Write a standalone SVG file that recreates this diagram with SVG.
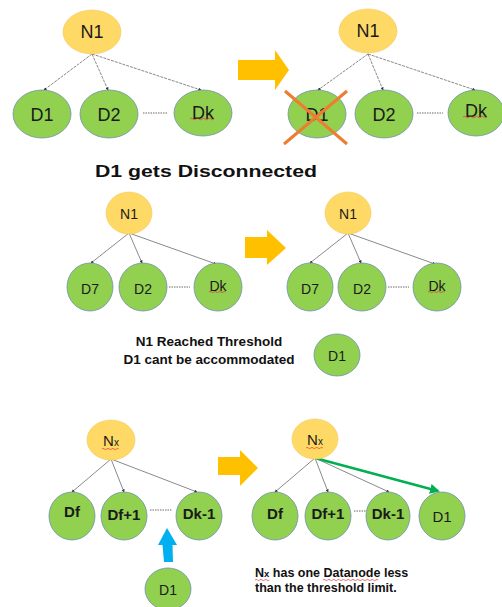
<svg xmlns="http://www.w3.org/2000/svg" width="502" height="607" viewBox="0 0 502 607">
  <style>
    .nn { fill: #FFD966; stroke: #F5C85A; stroke-width: 0.6; }
    .dn { fill: #92D050; stroke: #6F8FB0; stroke-width: 0.8; }
    .t { font-family: "Liberation Sans", Arial, sans-serif; fill: #1a1a1a; text-anchor: middle; dominant-baseline: central; }
    .t1 { font-size: 18px; }
    .t2 { font-size: 14px; }
    .t3 { font-size: 15px; font-weight: bold; }
    .t3r { font-size: 15px; }
    .edge { stroke: #6b6b6b; stroke-width: 0.8; fill: none; marker-end: url(#tip); }
    .edge.dash { stroke-dasharray: 3 1; }
    .dots { stroke: #6b6b6b; stroke-width: 1; stroke-dasharray: 1.5 1; }
    .blk { fill: #FFC000; }
    .spell { stroke: #e03030; stroke-width: 0.7; fill: none; }
    .cap { font-family: "Liberation Sans", Arial, sans-serif; font-weight: bold; fill: #111; }
  </style>
  <defs>
    <marker id="tip" viewBox="0 0 6 6" refX="5" refY="3" markerWidth="4" markerHeight="4" orient="auto">
      <path d="M0,0 L6,3 L0,6 z" fill="#333"/>
    </marker>
    <marker id="gtip" viewBox="0 0 10 10" refX="8" refY="5" markerWidth="4" markerHeight="4" orient="auto">
      <path d="M0,0 L10,5 L0,10 z" fill="#00B050"/>
    </marker>
  </defs>

  <!-- connectors -->
  <g id="connectors">
    <!-- row 1 left -->
    <path class="edge dash" d="M92,54 L44,90"/>
    <path class="edge dash" d="M92,54 L108,90"/>
    <path class="edge dash" d="M92,54 L201,90"/>
    <line class="dots" x1="143" y1="113" x2="168" y2="113"/>
    <!-- row 1 right -->
    <path class="edge dash" d="M368,54 L318,90"/>
    <path class="edge dash" d="M368,54 L383,90"/>
    <path class="edge dash" d="M368,54 L475,90"/>
    <line class="dots" x1="417" y1="113" x2="443" y2="113"/>
    <!-- row 2 left -->
    <path class="edge" d="M129,233 L91,263"/>
    <path class="edge" d="M129,233 L142,263"/>
    <path class="edge" d="M129,233 L216,264"/>
    <line class="dots" x1="169" y1="287" x2="190" y2="287"/>
    <!-- row 2 right -->
    <path class="edge" d="M348,233 L310,263"/>
    <path class="edge" d="M348,233 L361,263"/>
    <path class="edge" d="M348,233 L435,264"/>
    <line class="dots" x1="388" y1="287" x2="409" y2="287"/>
    <!-- row 3 left -->
    <path class="edge" d="M111,459 L72,492"/>
    <path class="edge" d="M111,459 L124,492"/>
    <path class="edge" d="M111,459 L197,492"/>
    <line class="dots" x1="150" y1="510" x2="172" y2="510"/>
    <!-- row 3 right -->
    <path class="edge" d="M315,458 L275,492"/>
    <path class="edge" d="M315,458 L328,492"/>
    <path class="edge" d="M315,458 L389,492"/>
    <line class="dots" x1="354" y1="511" x2="366" y2="511"/>
    <path d="M315,458 L438,491" stroke="#00B050" stroke-width="2.5" fill="none" marker-end="url(#gtip)"/>
  </g>

  <!-- block arrows -->
  <path class="blk" d="M238,60 L275,60 L275,50 L289,70 L275,90 L275,80 L238,80 Z"/>
  <path class="blk" d="M245,237 L267,237 L267,230 L286,248 L267,265 L267,258 L245,258 Z"/>
  <path class="blk" d="M218,457 L240,457 L240,450 L258,468 L240,486 L240,475 L218,475 Z"/>
  <path d="M167,528 L177,545 L172.5,545 L173,562 L164,562 L162.5,545 L158,545 Z" fill="#00B0F0"/>

  <!-- row 1, before -->
  <g id="r1a-N1"><ellipse class="nn" cx="92" cy="32" rx="29" ry="22"/><text class="t t1" x="92" y="32">N1</text></g>
  <g id="r1a-D1"><ellipse class="dn" cx="42" cy="114" rx="29" ry="24"/><text class="t t1" x="42" y="115">D1</text></g>
  <g id="r1a-D2"><ellipse class="dn" cx="109" cy="114" rx="29" ry="24"/><text class="t t1" x="109" y="115">D2</text></g>
  <g id="r1a-Dk"><ellipse class="dn" cx="203" cy="113" rx="29" ry="23"/><text class="t t1" x="203" y="113">Dk</text>
    <path class="spell" d="M190,119 q1.5,-1.5 3,0 t3,0 t3,0 t3,0 t3,0 t3,0 t3,0 t3,0"/></g>

  <!-- row 1, after -->
  <g id="r1b-N1"><ellipse class="nn" cx="368" cy="31" rx="29" ry="22"/><text class="t t1" x="368" y="31">N1</text></g>
  <g id="r1b-D1"><ellipse class="dn" cx="317" cy="114" rx="29" ry="24"/><text class="t t1" x="317" y="115">D1</text>
    <path d="M285,91 L347,144 M347,91 L284,144" stroke="#ED7D31" stroke-width="3" fill="none"/></g>
  <g id="r1b-D2"><ellipse class="dn" cx="384" cy="114" rx="29" ry="24"/><text class="t t1" x="384" y="115">D2</text></g>
  <g id="r1b-Dk"><ellipse class="dn" cx="476" cy="113" rx="28" ry="23"/><text class="t t1" x="476" y="111">Dk</text>
    <path class="spell" d="M463,117 q1.5,-1.5 3,0 t3,0 t3,0 t3,0 t3,0 t3,0 t3,0 t3,0"/></g>

  <text class="cap" x="95" y="177" font-size="17" textLength="222" lengthAdjust="spacingAndGlyphs">D1 gets Disconnected</text>

  <!-- row 2, before -->
  <g id="r2a-N1"><ellipse class="nn" cx="129" cy="213" rx="23" ry="21"/><text class="t t2" x="129" y="214">N1</text></g>
  <g id="r2a-D7"><ellipse class="dn" cx="90" cy="287" rx="23" ry="24"/><text class="t t2" x="90" y="289">D7</text></g>
  <g id="r2a-D2"><ellipse class="dn" cx="143" cy="287" rx="24" ry="24"/><text class="t t2" x="143" y="289">D2</text></g>
  <g id="r2a-Dk"><ellipse class="dn" cx="218" cy="287" rx="24" ry="24"/><text class="t t2" x="218" y="286">Dk</text>
    <path class="spell" d="M209,292 q1.2,-1.2 2.4,0 t2.4,0 t2.4,0 t2.4,0 t2.4,0 t2.4,0 t2.4,0"/></g>

  <!-- row 2, after -->
  <g id="r2b-N1"><ellipse class="nn" cx="348" cy="213" rx="23" ry="21"/><text class="t t2" x="348" y="214">N1</text></g>
  <g id="r2b-D7"><ellipse class="dn" cx="310" cy="287" rx="23" ry="24"/><text class="t t2" x="310" y="289">D7</text></g>
  <g id="r2b-D2"><ellipse class="dn" cx="362" cy="287" rx="24" ry="24"/><text class="t t2" x="362" y="289">D2</text></g>
  <g id="r2b-Dk"><ellipse class="dn" cx="437" cy="287" rx="24" ry="24"/><text class="t t2" x="437" y="286">Dk</text>
    <path class="spell" d="M428,292 q1.2,-1.2 2.4,0 t2.4,0 t2.4,0 t2.4,0 t2.4,0 t2.4,0 t2.4,0"/></g>

  <text class="cap" font-size="13.5" text-anchor="middle" x="209" y="346">N1 Reached Threshold</text>
  <text class="cap" font-size="13.5" text-anchor="middle" x="209" y="364">D1 cant be accommodated</text>
  <g id="r2-D1"><ellipse class="dn" cx="337" cy="355" rx="23" ry="21"/><text class="t t2" x="337" y="356">D1</text></g>

  <!-- row 3, before -->
  <g id="r3a-Nx"><ellipse class="nn" cx="111" cy="440" rx="24" ry="20"/>
    <text class="t" x="111" y="440"><tspan font-size="15">N</tspan><tspan font-size="10" dy="2">x</tspan></text>
    <path class="spell" d="M102,449 q1.2,-1.2 2.4,0 t2.4,0 t2.4,0 t2.4,0 t2.4,0 t2.4,0 t2.4,0"/></g>
  <g id="r3a-Df"><ellipse class="dn" cx="72" cy="516" rx="23" ry="24"/><text class="t t3" x="72" y="511">Df</text></g>
  <g id="r3a-Df1"><ellipse class="dn" cx="124" cy="516" rx="23" ry="24"/><text class="t t3" x="124" y="514">Df+1</text></g>
  <g id="r3a-Dk1"><ellipse class="dn" cx="199" cy="516" rx="23" ry="24"/><text class="t t3" x="199" y="513">Dk-1</text></g>

  <!-- row 3, after -->
  <g id="r3b-Nx"><ellipse class="nn" cx="315" cy="439" rx="23" ry="20"/>
    <text class="t" x="315" y="439"><tspan font-size="15">N</tspan><tspan font-size="10" dy="2">x</tspan></text>
    <path class="spell" d="M306,448 q1.2,-1.2 2.4,0 t2.4,0 t2.4,0 t2.4,0 t2.4,0 t2.4,0 t2.4,0"/></g>
  <g id="r3b-Df"><ellipse class="dn" cx="275" cy="516" rx="23" ry="24"/><text class="t t3" x="275" y="513">Df</text></g>
  <g id="r3b-Df1"><ellipse class="dn" cx="328" cy="516" rx="23" ry="24"/><text class="t t3" x="328" y="513">Df+1</text></g>
  <g id="r3b-Dk1"><ellipse class="dn" cx="388" cy="516" rx="22" ry="24"/><text class="t t3" x="388" y="513">Dk-1</text></g>
  <g id="r3b-D1"><ellipse class="dn" cx="442" cy="516" rx="23" ry="24"/><text class="t t3r" x="442" y="516">D1</text></g>

  <g id="r3-D1"><ellipse class="dn" cx="168" cy="589" rx="23" ry="21"/><text class="t t2" x="168" y="590">D1</text></g>

  <text class="cap" font-size="12.5" x="255" y="577"><tspan>N</tspan><tspan font-size="9.5">x</tspan> has one Datanode less</text>
  <text class="cap" font-size="12.5" x="255" y="592">than the threshold limit.</text>
  <path class="spell" d="M255,580 q1.2,-1.2 2.4,0 t2.4,0 t2.4,0 t2.4,0 t2.4,0 t2.4,0"/>
  <path class="spell" d="M323,580 q1.2,-1.2 2.4,0 t2.4,0 t2.4,0 t2.4,0 t2.4,0 t2.4,0 t2.4,0 t2.4,0 t2.4,0 t2.4,0 t2.4,0 t2.4,0 t2.4,0 t2.4,0 t2.4,0 t2.4,0 t2.4,0 t2.4,0 t2.4,0 t2.4,0 t2.4,0 t2.4,0 t2.4,0"/>
</svg>
